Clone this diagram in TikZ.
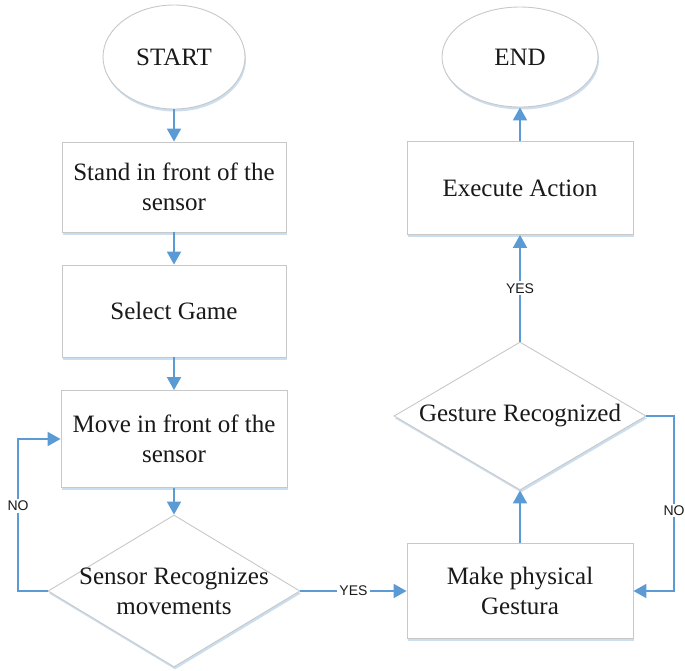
\documentclass[tikz,border=0pt]{standalone}
\usepackage{fontspec}
\setmainfont{Liberation Serif}
\newfontfamily\lblfont{Liberation Sans}
\usetikzlibrary{shapes.geometric,arrows.meta,shadows}
\definecolor{arrowblue}{HTML}{5B9BD5}
\definecolor{shapeline}{HTML}{C8C8C8}
\definecolor{shadowblue}{HTML}{C5DAEE}
\begin{document}
\begin{tikzpicture}[x=1pt,y=-1pt,
  flow/.style={draw=shapeline, line width=0.9pt, fill=white, inner sep=0pt,
    drop shadow={shadow xshift=1pt, shadow yshift=-2.5pt, fill=shadowblue, opacity=0.9},
    font=\fontsize{25}{30}\selectfont, align=center, text=black!90},
  boxnode/.style={flow, rectangle},
  ovalnode/.style={flow, ellipse},
  decnode/.style={flow, diamond},
  arr/.style={draw=arrowblue, line width=2pt, -{Triangle[length=13pt,width=14pt]}},
  lbl/.style={fill=white, inner sep=2pt, font=\lblfont\fontsize{14}{16}\selectfont, text=black!90},
  dectext/.style={font=\fontsize{25}{30}\selectfont, align=center, text=black!90}
]
\useasboundingbox (0,0) rectangle (685,670);

\node[ovalnode, minimum width=142pt, minimum height=104pt] (start) at (174,57) {START};
\node[boxnode, minimum width=224pt, minimum height=90pt] (stand) at (174,187) {Stand in front of the\\sensor};
\node[boxnode, minimum width=224pt, minimum height=92pt] (select) at (174,311) {Select Game};
\node[boxnode, minimum width=226pt, minimum height=97pt] (move) at (174,439) {Move in front of the\\sensor};
\node[decnode, minimum width=252pt, minimum height=152pt] (sensor) at (174,591) {};
\node[dectext] (sensortext) at (174,591) {Sensor Recognizes\\movements};

\node[boxnode, minimum width=226pt, minimum height=95pt] (make) at (520,591) {Make physical\\Gestura};
\node[decnode, minimum width=252pt, minimum height=148pt] (gesture) at (520,416) {};
\node[dectext] (gesturetext) at (520,416) {Gesture Recognized};
\node[boxnode, minimum width=226pt, minimum height=93pt] (exec) at (520,188) {Execute Action};
\node[ovalnode, minimum width=156pt, minimum height=100pt] (end) at (520,57) {END};

\coordinate (noL) at (18,591);
\coordinate (noR) at (674,416);

\draw[arr] (start) -- (stand);
\draw[arr] (stand) -- (select);
\draw[arr] (select) -- (move);
\draw[arr] (move) -- (sensor);
\draw[arr] (sensor.west) -- (noL) |- node[lbl, pos=0.28] (nol) {NO} (move.west);
\draw[arr] (sensor.east) -- node[lbl] (yesb) {YES} (make.west);
\draw[arr] (make) -- (gesture);
\draw[arr] (gesture.east) -- (noR) |- node[lbl, pos=0.27] (nor) {NO} (make.east);
\draw[arr] (gesture.north) -- node[lbl] (yest) {YES} (exec.south);
\draw[arr] (exec) -- (end);
\end{tikzpicture}
\end{document}
